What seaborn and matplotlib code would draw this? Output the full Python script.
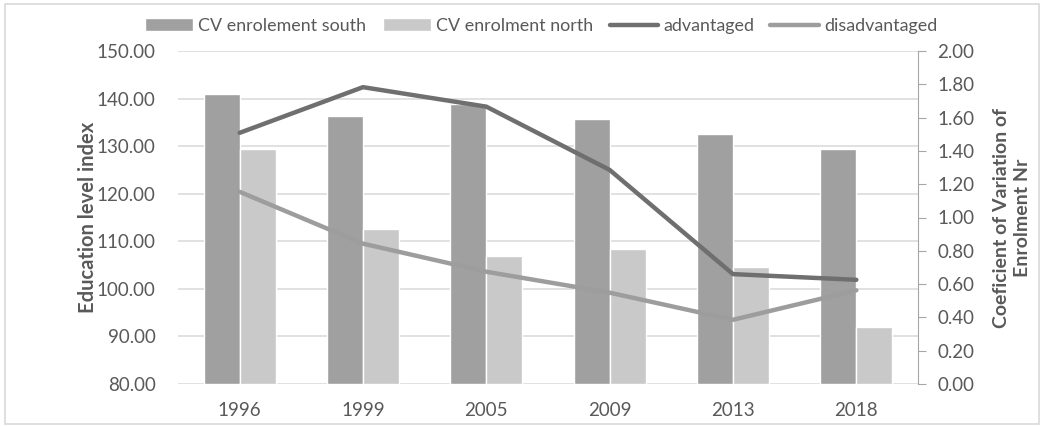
import matplotlib
matplotlib.use("Agg")
import matplotlib.pyplot as plt
from matplotlib.patches import Rectangle
import seaborn as sns
import pandas as pd

years = ["1996", "1999", "2005", "2009", "2013", "2018"]
cv_south = [1.74, 1.61, 1.68, 1.59, 1.50, 1.41]
cv_north = [1.41, 0.93, 0.77, 0.81, 0.70, 0.34]
advantaged = [132.8, 142.4, 138.3, 125.0, 103.1, 101.9]
disadvantaged = [120.4, 109.5, 103.6, 99.2, 93.5, 99.7]

bar_names = ["CV enrolement south", "CV enrolment north"]
line_names = ["advantaged", "disadvantaged"]

bars_df = pd.DataFrame({
    "year": years * 2,
    "value": cv_south + cv_north,
    "series": [bar_names[0]] * len(years) + [bar_names[1]] * len(years),
})
lines_df = pd.DataFrame({
    "year": years * 2,
    "value": advantaged + disadvantaged,
    "series": [line_names[0]] * len(years) + [line_names[1]] * len(years),
})

sns.set_style("white")
plt.rcParams["font.family"] = ["Lato", "DejaVu Sans"]

txt = "#595959"
fig = plt.figure(figsize=(10.43, 4.26), dpi=100)
ax_bg = fig.add_axes([178 / 1043, 1 - 384 / 426, 740 / 1043, 333 / 426])
ax_bars = ax_bg.twinx()
ax_lines = ax_bg.twinx()

sns.barplot(data=bars_df, x="year", y="value", hue="series", ax=ax_bars,
            palette=["#a0a0a0", "#c9c9c9"], width=0.585, saturation=1,
            errorbar=None, legend=True)
sns.pointplot(data=lines_df, x="year", y="value", hue="series", ax=ax_lines,
              palette=["#6f6f6f", "#9d9d9d"], markers="", linewidth=3.2,
              errorbar=None, legend=True)

for a in (ax_bg, ax_bars, ax_lines):
    a.set_xlim(-0.5, 5.5)

# Left axis (education index) with grid
ax_bg.set_ylim(80, 150)
ax_bg.set_yticks(range(80, 151, 10))
ax_bg.set_yticklabels([f"{v:.2f}" for v in range(80, 151, 10)])
ax_bg.grid(axis="y", color="#d9d9d9", linewidth=1.1)
ax_bg.grid(axis="x", visible=False)
for s in ax_bg.spines.values():
    s.set_visible(False)
ax_bg.tick_params(axis="y", length=0, pad=16, labelsize=13.5, labelcolor=txt)
ax_bg.tick_params(axis="x", length=0, pad=13, labelsize=13.5, labelcolor=txt)
ax_bg.set_ylabel("Education level index", fontsize=14.5, fontweight="bold",
                 color=txt, labelpad=-1)
ax_bg.set_xlabel("")

# Right axis (CV) for bars
ax_bars.set_ylim(0, 2.0)
ax_bars.set_yticks([i / 5 for i in range(11)])
ax_bars.set_yticklabels([f"{i / 5:.2f}" for i in range(11)])
for name, s in ax_bars.spines.items():
    s.set_visible(name == "right")
ax_bars.spines["right"].set_color("#a6a6a6")
ax_bars.tick_params(axis="y", length=6, color="#a6a6a6", direction="out",
                    pad=8, labelsize=13.5, labelcolor=txt)
ax_bars.set_ylabel("Coeficient of Variation of\nEnrolment Nr", fontsize=14,
                   fontweight="bold", color=txt, labelpad=13, linespacing=1.3)
ax_bars.set_xlabel("")
ax_bars.grid(False)

# Lines axis
ax_lines.set_ylim(80, 150)
ax_lines.axis("off")

h1, l1 = ax_bars.get_legend_handles_labels()
h2, l2 = ax_lines.get_legend_handles_labels()
ax_bars.get_legend().remove()
ax_lines.get_legend().remove()
leg = fig.legend(h1 + h2, l1 + l2, loc="center", bbox_to_anchor=(541 / 1043, 1 - 26 / 426),
                 ncol=4, frameon=False, fontsize=12.9, handlelength=2.7,
                 handleheight=0.75, columnspacing=0.9, handletextpad=0.3)
for t in leg.get_texts():
    t.set_color(txt)

fig.patches.append(Rectangle((5 / 1043, 2 / 426), 1034 / 1043, 420 / 426,
                             transform=fig.transFigure, fill=False,
                             edgecolor="#d9d9d9", linewidth=1.2))

fig.savefig("out.png", dpi=100, facecolor="white")
